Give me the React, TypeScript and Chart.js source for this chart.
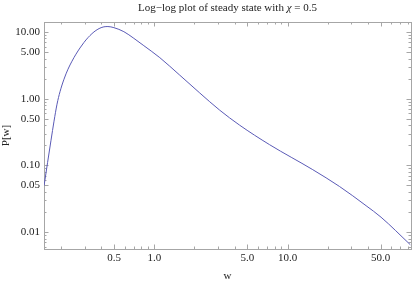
import React, { useEffect, useRef } from "react";
import { Chart, registerables } from "chart.js";

Chart.register(...registerables);

const wValues = [0.1488, 0.158, 0.1678, 0.1767, 0.1861, 0.196, 0.21, 0.225, 0.2411, 0.2583, 0.2768, 0.2965, 0.3177, 0.3404, 0.3646, 0.3907, 0.4185, 0.4485, 0.4975, 0.5909, 0.7024, 0.8346, 1.0997, 1.553, 2.193, 3.096, 4.371, 7.333, 15.47, 24.52, 38.87, 50.35, 83.48];
const pValues = [0.0496, 0.1098, 0.2386, 0.46, 0.827, 1.273, 1.961, 2.769, 3.649, 4.648, 5.756, 6.961, 8.214, 9.43, 10.53, 11.4, 11.93, 12.05, 11.6, 10.1, 8.02, 6.23, 4.119, 2.25, 1.218, 0.6724, 0.4006, 0.2043, 0.0862, 0.0484, 0.02488, 0.01672, 0.00647];

const xTickValues = [0.5, 1, 5, 10, 50];
const xTickLabels = ["0.5", "1.0", "5.0", "10.0", "50.0"];
const xMinorTicks = [0.2, 0.3, 0.4, 0.6, 0.7, 0.8, 0.9, 2, 3, 4, 6, 7, 8, 9, 20, 30, 40, 60, 70, 80];
const yTickValues = [0.01, 0.05, 0.1, 0.5, 1, 5, 10];
const yTickLabels = ["0.01", "0.05", "0.10", "0.50", "1.00", "5.00", "10.00"];
const yMinorTicks = [0.006, 0.007, 0.008, 0.009, 0.02, 0.03, 0.04, 0.06, 0.07, 0.08, 0.09, 0.2, 0.3, 0.4, 0.6, 0.7, 0.8, 0.9, 2, 3, 4, 6, 7, 8, 9];

const titleParts = [
  { text: "Log\u2212log plot of steady state with ", italic: false },
  { text: "\u03c7", italic: true },
  { text: " = 0.5", italic: false },
];
const xTitle = "w";
const yTitle = "P[w]";

const FONT = "'Liberation Serif', 'DejaVu Serif', serif";
const FRAME = "#a6a6a6";
const TEXT = "#222222";

const framePlugin = {
  id: "mmaFrame",
  beforeDatasetsDraw(chart: any) {
    const { ctx, chartArea: a, scales } = chart;
    const xs = scales.x;
    const ys = scales.y;
    ctx.save();
    ctx.strokeStyle = FRAME;
    ctx.lineWidth = 1;
    ctx.strokeRect(Math.round(a.left) + 0.5, Math.round(a.top) + 0.5, Math.round(a.right - a.left), Math.round(a.bottom - a.top));
    const drawX = (v: number, len: number) => {
      const px = Math.round(xs.getPixelForValue(v)) + 0.5;
      if (px < a.left || px > a.right) return;
      ctx.beginPath();
      ctx.moveTo(px, a.bottom);
      ctx.lineTo(px, a.bottom - len);
      ctx.moveTo(px, a.top);
      ctx.lineTo(px, a.top + len);
      ctx.stroke();
    };
    const drawY = (v: number, len: number) => {
      const py = Math.round(ys.getPixelForValue(v)) + 0.5;
      if (py < a.top || py > a.bottom) return;
      ctx.beginPath();
      ctx.moveTo(a.left, py);
      ctx.lineTo(a.left + len, py);
      ctx.moveTo(a.right, py);
      ctx.lineTo(a.right - len, py);
      ctx.stroke();
    };
    xTickValues.forEach((v) => drawX(v, 4.5));
    xMinorTicks.forEach((v) => drawX(v, 2.5));
    yTickValues.forEach((v) => drawY(v, 4.5));
    yMinorTicks.forEach((v) => drawY(v, 2.5));
    ctx.restore();
  },
  afterDraw(chart: any) {
    const { ctx, chartArea: a } = chart;
    ctx.save();
    ctx.fillStyle = TEXT;
    ctx.textBaseline = "alphabetic";
    ctx.textAlign = "left";
    const fontFor = (italic: boolean) => `${italic ? "italic " : ""}11px ${FONT}`;
    let total = 0;
    titleParts.forEach((p) => {
      ctx.font = fontFor(p.italic);
      total += ctx.measureText(p.text).width;
    });
    let x = (a.left + a.right) / 2 - total / 2;
    titleParts.forEach((p) => {
      ctx.font = fontFor(p.italic);
      ctx.fillText(p.text, x, 11);
      x += ctx.measureText(p.text).width;
    });
    ctx.restore();
  },
};

export default function App() {
  const ref = useRef<HTMLCanvasElement | null>(null);
  useEffect(() => {
    document.body.style.margin = "0";
    if (!ref.current) return;
    const chart = new Chart(ref.current, {
      type: "line",
      data: {
        datasets: [
          {
            data: wValues.map((w, i) => ({ x: w, y: pValues[i] })),
            borderColor: "#5a5ab6",
            borderWidth: 1,
            pointRadius: 0,
            fill: false,
            cubicInterpolationMode: "monotone",
          },
        ],
      },
      options: {
        animation: false,
        responsive: false,
        devicePixelRatio: 1,
        layout: { padding: { top: 22, right: 4, left: 0, bottom: 0 } },
        plugins: { legend: { display: false }, tooltip: { enabled: false }, title: { display: false } },
        scales: {
          x: {
            type: "logarithmic",
            min: 0.1486,
            max: 84.5,
            grid: { display: false, drawTicks: false },
            border: { display: false },
            afterBuildTicks: (s: any) => {
              s.ticks = xTickValues.map((v) => ({ value: v }));
            },
            afterFit: (s: any) => {
              s.height = 34;
            },
            ticks: {
              autoSkip: false,
              maxRotation: 0,
              padding: 3,
              color: TEXT,
              font: { family: FONT, size: 11 },
              callback: (v: any) => {
                const i = xTickValues.findIndex((t) => Math.abs(t - Number(v)) < 1e-9);
                return i >= 0 ? xTickLabels[i] : "";
              },
            },
            title: { display: true, text: xTitle, color: TEXT, font: { family: FONT, size: 11 }, padding: 0 },
          },
          y: {
            type: "logarithmic",
            min: 0.00558,
            max: 14.1,
            grid: { display: false, drawTicks: false },
            border: { display: false },
            afterBuildTicks: (s: any) => {
              s.ticks = yTickValues.map((v) => ({ value: v }));
            },
            afterFit: (s: any) => {
              s.width = 44;
            },
            ticks: {
              autoSkip: false,
              padding: 4,
              color: TEXT,
              font: { family: FONT, size: 11 },
              callback: (v: any) => {
                const i = yTickValues.findIndex((t) => Math.abs(t - Number(v)) < 1e-12);
                return i >= 0 ? yTickLabels[i] : "";
              },
            },
            title: { display: true, text: yTitle, color: TEXT, font: { family: FONT, size: 11 }, padding: 0 },
          },
        },
      },
      plugins: [framePlugin],
    } as any);
    return () => chart.destroy();
  }, []);
  return (
    <div style={{ width: 415, height: 283 }}>
      <canvas ref={ref} width={415} height={283} style={{ display: "block", width: 415, height: 283 }} />
    </div>
  );
}
